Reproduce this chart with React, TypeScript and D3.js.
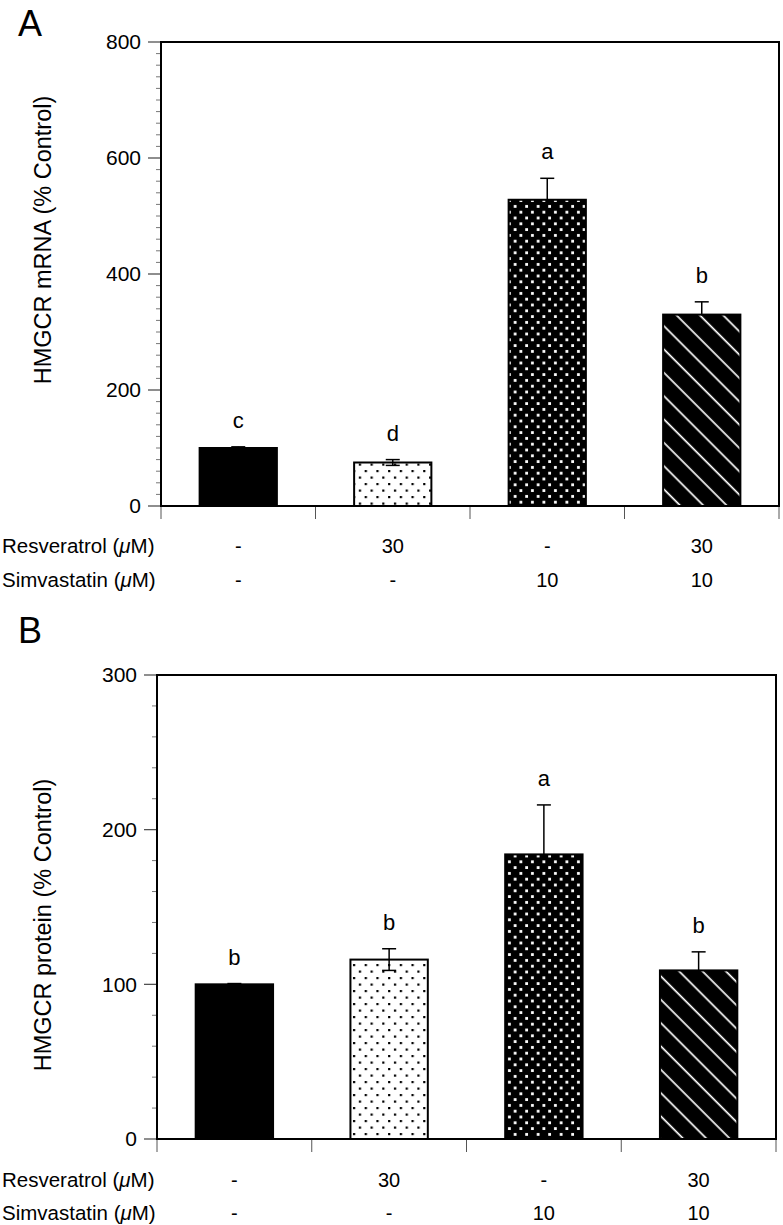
import React from 'react';
import * as d3 from 'd3';

const groups = ['Control', 'Resveratrol', 'Simvastatin', 'Resveratrol+Simvastatin'];
const resveratrolRow = ['-', '30', '-', '30'];
const simvastatinRow = ['-', '-', '10', '10'];
const mrnaValues = [100, 75, 528, 330];
const mrnaErrors = [2, 5, 37, 22];
const mrnaLetters = ['c', 'd', 'a', 'b'];
const mrnaTicks = [0, 200, 400, 600, 800];
const proteinValues = [100, 116, 184, 109];
const proteinErrors = [0.5, 7, 32, 12];
const proteinLetters = ['b', 'b', 'a', 'b'];
const proteinTicks = [0, 100, 200, 300];
const fills = ['#000', 'url(#lightDots)', 'url(#darkDots)', 'url(#hatch)'];
const lightFills = new Set(['url(#lightDots)']);

const FONT = 'Liberation Sans, Arial, Helvetica, sans-serif';

type PanelProps = {
  label: string;
  labelY: number;
  title: string;
  titleY: number;
  left: number;
  right: number;
  top: number;
  bottom: number;
  yMax: number;
  ticks: number[];
  minorStep: number;
  values: number[];
  errors: number[];
  letters: string[];
  row1Y: number;
  row2Y: number;
};

function Panel(p: PanelProps) {
  const x = d3.scaleBand<string>().domain(groups).range([p.left, p.right]).paddingInner(0.5).paddingOuter(0.25);
  const y = d3.scaleLinear().domain([0, p.yMax]).range([p.bottom, p.top]);
  const step = x.step();
  const minor = d3.range(0, p.yMax + 0.001, p.minorStep).filter((v) => !p.ticks.includes(v));
  const capW = 7;
  return (
    <g fontFamily={FONT} fill="#000">
      <text x={18} y={p.labelY} fontSize={36}>{p.label}</text>
      <text
        transform={`translate(${51},${p.titleY}) rotate(-90)`}
        textAnchor="middle"
        fontSize={23.5}
      >
        {p.title}
      </text>
      {minor.map((v) => (
        <line key={'m' + v} x1={p.left - 5} x2={p.left} y1={y(v)} y2={y(v)} stroke="#777" strokeWidth={1} />
      ))}
      {p.ticks.map((v) => (
        <g key={'t' + v}>
          <line x1={p.left - 13} x2={p.left} y1={y(v)} y2={y(v)} stroke="#444" strokeWidth={1.2} />
          <text x={p.left - 20} y={y(v)} dy="0.35em" textAnchor="end" fontSize={21}>{v}</text>
        </g>
      ))}
      {groups.map((g, i) => (
        <line key={'b' + i} x1={p.left + step * i} x2={p.left + step * i} y1={p.bottom} y2={p.bottom + 13} stroke="#555" strokeWidth={1} />
      ))}
      <line x1={p.right} x2={p.right} y1={p.bottom} y2={p.bottom + 13} stroke="#555" strokeWidth={1} />
      {groups.map((g, i) => {
        const bx = x(g)!;
        const cx = bx + x.bandwidth() / 2;
        const v = p.values[i];
        const e = p.errors[i];
        const showLower = lightFills.has(fills[i]);
        return (
          <g key={g}>
            <rect x={bx} y={y(v)} width={x.bandwidth()} height={p.bottom - y(v)} fill={fills[i]} stroke="#000" strokeWidth={2} />
            <line x1={cx} x2={cx} y1={showLower ? y(v - e) : y(v)} y2={y(v + e)} stroke="#000" strokeWidth={1.5} />
            <line x1={cx - capW} x2={cx + capW} y1={y(v + e)} y2={y(v + e)} stroke="#000" strokeWidth={1.5} />
            {showLower && (
              <line x1={cx - capW} x2={cx + capW} y1={y(v - e)} y2={y(v - e)} stroke="#000" strokeWidth={1.5} />
            )}
            <text x={cx} y={y(v + e) - 19} textAnchor="middle" fontSize={22}>{p.letters[i]}</text>
            <text x={cx} y={p.row1Y} textAnchor="middle" fontSize={20}>{resveratrolRow[i]}</text>
            <text x={cx} y={p.row2Y} textAnchor="middle" fontSize={20}>{simvastatinRow[i]}</text>
          </g>
        );
      })}
      <rect x={p.left} y={p.top} width={p.right - p.left} height={p.bottom - p.top} fill="none" stroke="#000" strokeWidth={2} />
      <text x={2} y={p.row1Y} fontSize={20.5}>
        Resveratrol (<tspan fontStyle="italic">μ</tspan>M)
      </text>
      <text x={2} y={p.row2Y} fontSize={20.5}>
        Simvastatin (<tspan fontStyle="italic">μ</tspan>M)
      </text>
    </g>
  );
}

export default function App() {
  return (
    <svg width={783} height={1225} style={{ position: 'absolute', left: 0, top: 0, background: '#fff' }}>
      <defs>
        <pattern id="lightDots" patternUnits="userSpaceOnUse" width={11.7} height={13}>
          <rect width={11.7} height={13} fill="#fff" />
          <rect x={2} y={2} width={2.2} height={2.2} fill="#000" />
          <rect x={7.85} y={8.5} width={2.2} height={2.2} fill="#000" />
        </pattern>
        <pattern id="darkDots" patternUnits="userSpaceOnUse" width={11.5} height={11.6}>
          <rect width={11.5} height={11.6} fill="#000" />
          <rect x={2} y={2} width={2.8} height={2.8} fill="#fff" />
          <rect x={7.75} y={7.8} width={2.8} height={2.8} fill="#fff" />
        </pattern>
        <pattern id="hatch" patternUnits="userSpaceOnUse" width={16.5} height={16.5} patternTransform="rotate(-45)">
          <rect width={16.5} height={16.5} fill="#000" />
          <line x1={8} x2={8} y1={0} y2={16.5} stroke="#fff" strokeWidth={1.7} />
        </pattern>
      </defs>
      <rect width={783} height={1225} fill="#fff" />
      <Panel
        label="A"
        labelY={36}
        title="HMGCR mRNA (% Control)"
        titleY={240}
        left={161}
        right={779}
        top={42}
        bottom={506}
        yMax={800}
        ticks={mrnaTicks}
        minorStep={20}
        values={mrnaValues}
        errors={mrnaErrors}
        letters={mrnaLetters}
        row1Y={553}
        row2Y={587}
      />
      <Panel
        label="B"
        labelY={643}
        title="HMGCR protein (% Control)"
        titleY={925}
        left={157}
        right={776}
        top={675}
        bottom={1139}
        yMax={300}
        ticks={proteinTicks}
        minorStep={20}
        values={proteinValues}
        errors={proteinErrors}
        letters={proteinLetters}
        row1Y={1187}
        row2Y={1220}
      />
    </svg>
  );
}
